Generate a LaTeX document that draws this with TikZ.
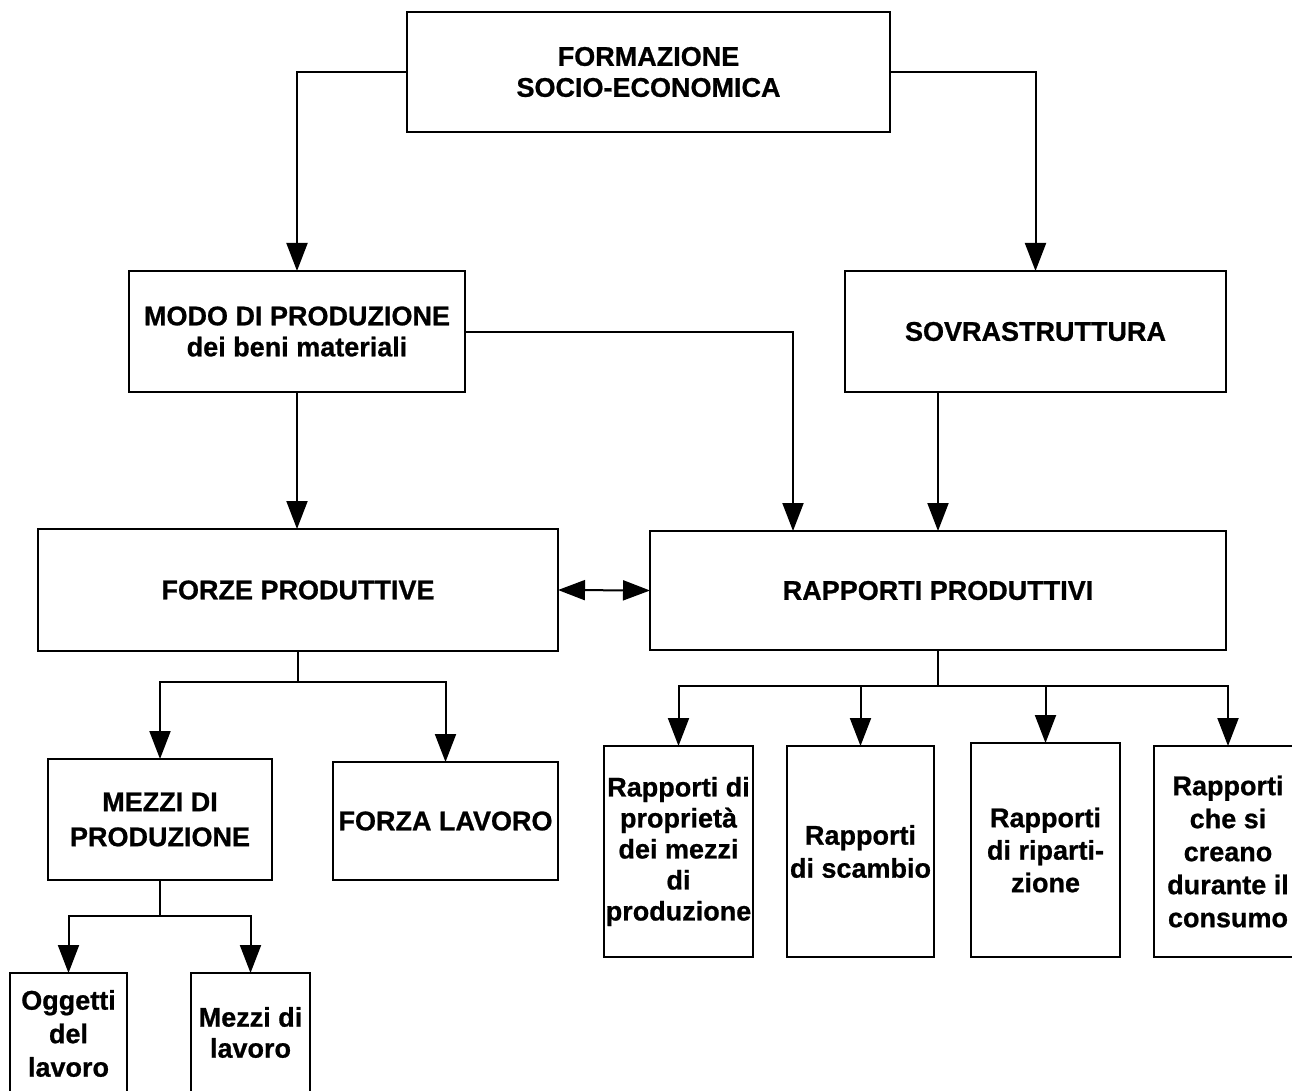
\documentclass[tikz,border=0pt]{standalone}
\usepackage{fontspec}
\setmainfont{Liberation Sans}[BoldFeatures={FakeBold=0.8}]
\usetikzlibrary{arrows.meta}
\tikzset{
  box/.style={draw, line width=2pt, inner sep=0pt, outer sep=0pt, align=center,
    font=\bfseries\fontsize{27}{32}\selectfont},
  ls/.style={font=\bfseries\fontsize{27}{#1}\selectfont},
  conn/.style={line width=2pt},
  arr/.style={line width=2pt, -{Triangle[length=28pt,width=21pt]}},
  darr/.style={line width=2pt, {Triangle[length=27pt,width=20pt]}-{Triangle[length=27pt,width=20pt]}},
}
\begin{document}
\begin{tikzpicture}[x=1pt,y=-1pt]
\fill[white] (0,0) rectangle (1292,1091);
\useasboundingbox (0,0) rectangle (1292,1091);

% boxes
\node[box, ls=31, minimum width=483pt, minimum height=120pt] (top) at (648.5,72) {FORMAZIONE\\SOCIO-ECONOMICA};
\node[box, ls=31, minimum width=336pt, minimum height=121pt] (modo) at (297,331.5) {MODO DI PRODUZIONE\\dei beni materiali};
\node[box, minimum width=381pt, minimum height=121pt] (sovra) at (1035.5,331.5) {SOVRASTRUTTURA};
\node[box, minimum width=520pt, minimum height=122pt] (forze) at (298,590) {FORZE PRODUTTIVE};
\node[box, minimum width=576pt, minimum height=119pt] (rap) at (938,590.5) {RAPPORTI PRODUTTIVI};
\node[box, ls=35, minimum width=224pt, minimum height=121pt] (mezzi) at (160,819.5) {MEZZI DI\\PRODUZIONE};
\node[box, minimum width=225pt, minimum height=118pt] (flav) at (445.5,821) {FORZA LAVORO};
\node[box, ls=33.5, minimum width=117pt, minimum height=121pt] (ogg) at (68.5,1033.5) {Oggetti\\del\\lavoro};
\node[box, ls=31, minimum width=119pt, minimum height=119pt] (mlav) at (250.5,1032.5) {Mezzi di\\lavoro};
\node[box, ls=31, minimum width=149pt, minimum height=211pt] (b1) at (678.5,851.5) {Rapporti di\\propriet\`a\\dei mezzi\\di\\produzione};
\node[box, ls=33, minimum width=147pt, minimum height=211pt] (b2) at (860.5,851.5) {Rapporti\\di scambio};
\node[box, ls=32.5, minimum width=149pt, minimum height=214pt] (b3) at (1045.5,850) {Rapporti\\di riparti-\\zione};
\node[box, ls=33, minimum width=148pt, minimum height=211pt] (b4) at (1228,851.5) {Rapporti\\che si\\creano\\durante il\\consumo};

% connectors
\draw[arr] (top.west) -| (modo.north);
\draw[arr] (top.east) -| (sovra.north);
\draw[arr] (modo.east) -| ([xshift=143pt]rap.north west);
\draw[arr] (rap.north |- sovra.south) -- (rap.north);
\draw[arr] (modo.south) -- (modo.south |- forze.north);
\draw[darr] (forze.east) -- (rap.west);

\path (forze.south) ++(0,31) coordinate (fj);
\draw[conn] (forze.south) -- (fj);
\draw[arr] (fj) -| (mezzi.north);
\draw[arr] (fj) -| (flav.north);

\path (mezzi.south) ++(0,36) coordinate (mj);
\draw[conn] (mezzi.south) -- (mj);
\draw[arr] (mj) -| (ogg.north);
\draw[arr] (mj) -| (mlav.north);

\path (rap.south) ++(0,36) coordinate (rj);
\draw[conn] (rap.south) -- (rj);
\draw[arr] (rj) -| (b1.north);
\draw[arr] (rj) -| (b2.north);
\draw[arr] (rj) -| (b3.north);
\draw[arr] (rj) -| (b4.north);
\end{tikzpicture}
\end{document}
